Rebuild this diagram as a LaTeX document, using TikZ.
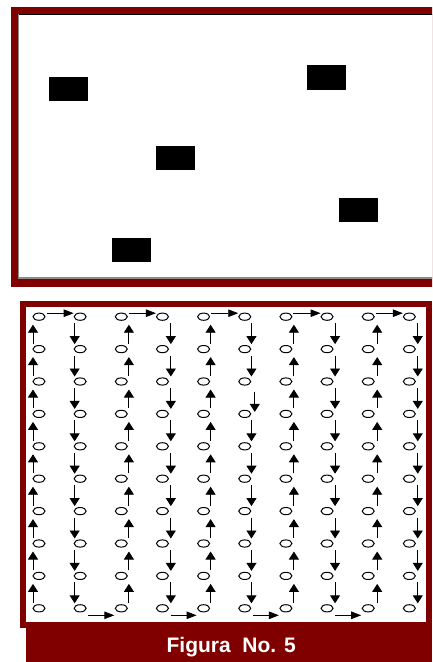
\documentclass[tikz,border=0pt]{standalone}
\usepackage{fontspec}
\setmainfont{Liberation Sans}
\usetikzlibrary{arrows.meta,shapes.geometric}
\definecolor{frame}{RGB}{128,0,0}
\definecolor{edgegrey}{RGB}{140,140,140}
\tikzset{
  dot/.style={ellipse,draw=black,line width=1bp,minimum width=12bp,minimum height=7.2bp,inner sep=0pt,fill=white},
  varrow/.style={line width=0.9bp,-{Triangle[width=10bp,length=8bp]}},
  harrow/.style={line width=0.9bp,-{Triangle[width=7.5bp,length=10bp]}},
  block/.style={fill=black},
}
\begin{document}
\begin{tikzpicture}[x=1bp,y=-1bp]
\useasboundingbox (0,0) rectangle (432,662);
\clip (0,0) rectangle (432,662);
\fill[white] (0,0) rectangle (432,662);
% top panel
\fill[frame] (11,7.3) rectangle (445,287);
\fill[white] (17.5,14) rectangle (440,278.3);
\draw[black,line width=1.2bp] (17.5,14.3) -- (440,14.3);
\draw[edgegrey,line width=1.2bp] (18.1,14.3) -- (18.1,278);
\draw[edgegrey,line width=1.2bp] (17.5,277.9) -- (440,277.9);
\fill[block] (49,77) rectangle (88,101);
\fill[block] (307,65.3) rectangle (346,89.7);
\fill[block] (156,146) rectangle (195,170);
\fill[block] (338.7,197.7) rectangle (377.7,222);
\fill[block] (111.7,238) rectangle (150.7,262.3);
% bottom panel
\fill[frame] (20,301) rectangle (432,627.7);
\fill[frame] (26,621.7) rectangle (432,662);
\fill[white] (26,307.3) rectangle (426,621.7);
\node[text=white,font=\bfseries\fontsize{21bp}{25bp}\selectfont,anchor=base,inner sep=0pt] (cap) at (231.2,652.3) {Figura\ \ No. 5};
% circles
\foreach \i in {1,...,10} {
  \foreach \j in {1,...,10} {
    \pgfmathsetmacro\xx{39+(\i-1)*41.15}
    \pgfmathsetmacro\yy{316.7+(\j-1)*32.4}
    \node[dot] (c-\i-\j) at (\xx,\yy) {};
  }
}
% up columns
\foreach \i/\dx in {1/-6,3/7.6,5/7,7/8,9/9} {
  \foreach \j [evaluate=\j as \k using int(\j+1)] in {1,...,9} {
    \draw[varrow] ([shift={(\dx,-5.5)}]c-\i-\k.center) -- ([shift={(\dx,8)}]c-\i-\j.center);
  }
}
% down columns
\foreach \i/\dx in {2/-5.5,4/8.4,8/8,10/8.4} {
  \foreach \j [evaluate=\j as \k using int(\j+1)] in {1,...,9} {
    \draw[varrow] ([shift={(\dx,6.5)}]c-\i-\j.center) -- ([shift={(\dx,-5)}]c-\i-\k.center);
  }
}
\foreach \j [evaluate=\j as \k using int(\j+1)] in {1,2,4,5,6,7,8,9} {
  \draw[varrow] ([shift={(6.7,6.5)}]c-6-\j.center) -- ([shift={(6.7,-5)}]c-6-\k.center);
}
\draw[varrow] ([shift={(10,10)}]c-6-3.center) -- ([shift={(10,-2)}]c-6-4.center);
% top connections
\foreach \i [evaluate=\i as \k using int(\i+1)] in {1,3,5,7,9} {
  \draw[harrow] ([shift={(7.5,-3.5)}]c-\i-1.center) -- ([shift={(-6.5,-3.5)}]c-\k-1.center);
}
% bottom connections
\foreach \i [evaluate=\i as \k using int(\i+1)] in {2,4,6,8} {
  \draw[harrow] ([shift={(8.3,7)}]c-\i-10.center) -- ([shift={(-7,7)}]c-\k-10.center);
}
\end{tikzpicture}
\end{document}
